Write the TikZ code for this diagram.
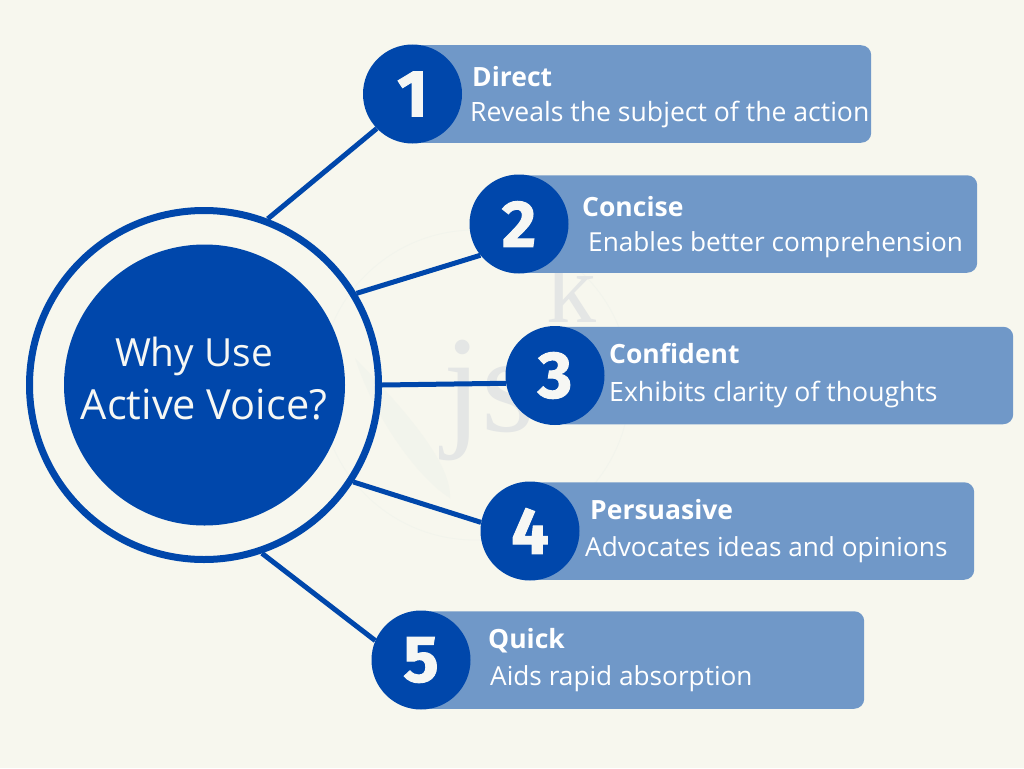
\documentclass[tikz,border=0pt]{standalone}
\usepackage{fontspec}
\setmainfont{Open Sans}
\newfontfamily\numfont[FakeBold=1.5]{Fira Sans Bold}
\newfontfamily\markfont{Liberation Serif}
\definecolor{paper}{HTML}{F7F7EE}
\definecolor{cobalt}{HTML}{0047AB}
\definecolor{barblue}{HTML}{7098C8}
\definecolor{markgray}{HTML}{E4E6E5}
\definecolor{markgreen}{HTML}{F2F4EC}
\definecolor{marktext}{HTML}{F6F7F4}
\begin{document}
\begin{tikzpicture}[
		x=1pt, y=-1pt,
		barbox/.style={anchor=west, fill=barblue, rounded corners=10pt, minimum height=97.5pt, inner sep=0pt},
		numdisc/.style={circle, fill=cobalt, minimum size=99pt, inner sep=0pt, text=marktext, font=\fontsize{66}{66}\numfont},
		headtext/.style={anchor=west, inner sep=0pt, text=white, font=\fontsize{26.5}{30}\selectfont\bfseries},
		bodytext/.style={anchor=west, inner sep=0pt, text=white, font=\fontsize{#1}{30}\selectfont},
		titletext/.style={anchor=center, inner sep=0pt, text=marktext, font=\fontsize{#1}{42}\selectfont},
		spoke/.style={draw=cobalt, line width=5pt},
		watermark/.style={anchor=base west, inner sep=0pt, text=markgray, font=\fontsize{#1}{#1}\markfont}
	]
	\useasboundingbox (0,0) rectangle (1024,768);
	\fill[paper] (0,0) rectangle (1024,768);
	
	% faint mark behind everything
	\draw[color=markgreen, line width=0.8pt] (475,385) circle (155);
	\fill[color=markgreen] (355,358) .. controls (375,420) and (420,480) .. (450,498) .. controls (452,460) and (395,400) .. cycle;
	\node[watermark=138] (markjs) at (443,431) {js};
	\node[watermark=100] (markk) at (546,322) {k};
	
	% bars first, the discs sit on them
	\foreach \i/\xc/\yc/\xr in {1/412.5/94/871, 2/519/224/977, 3/555/375.5/1013, 4/530/531/974, 5/421/660/864}{
		\pgfmathsetmacro{\barw}{\xr-\xc}
		\node[barbox, minimum width=\barw pt] (bar\i) at (\xc,\yc) {};
		\node[numdisc] (num\i) at (\xc,\yc) {\i};
	}
	
	\foreach \i/\xh/\yh/\head/\xb/\yb/\bs/\body in {
		1/472/77/Direct/470/115/26.6/Reveals the subject of the action,
		2/582/207/Concise/588/245/26.2/Enables better comprehension,
		3/609/353/Confident/609/395/26.6/Exhibits clarity of thoughts,
		4/590/510/Persuasive/585/550/26.2/Advocates ideas and opinions,
		5/488/641/Quick/490/679/26.2/Aids rapid absorption}{
		\node[headtext] (head\i) at (\xh,\yh) {\head};
		\node[bodytext=\bs] (body\i) at (\xb,\yb) {\body};
	}
	
	\node[circle, draw=cobalt, line width=7pt, minimum size=349pt, inner sep=0pt] (ring) at (204,385) {};
	\node[circle, fill=cobalt, minimum size=281pt, inner sep=0pt] (core) at (204.5,385) {};
	\node[titletext=38.8] (titleA) at (194,356) {Why Use};
	\node[titletext=41.5] (titleB) at (204,405) {Active Voice?};
	
	\draw[spoke] (ring.69) -- (num1.224);
	\draw[spoke] (ring.31) -- (num2.219);
	\draw[spoke] (ring.0) -- (num3.189);
	\draw[spoke] (ring.-33) -- (num4.170);
	\draw[spoke] (ring.-71) -- (num5.157);
\end{tikzpicture}
\end{document}
